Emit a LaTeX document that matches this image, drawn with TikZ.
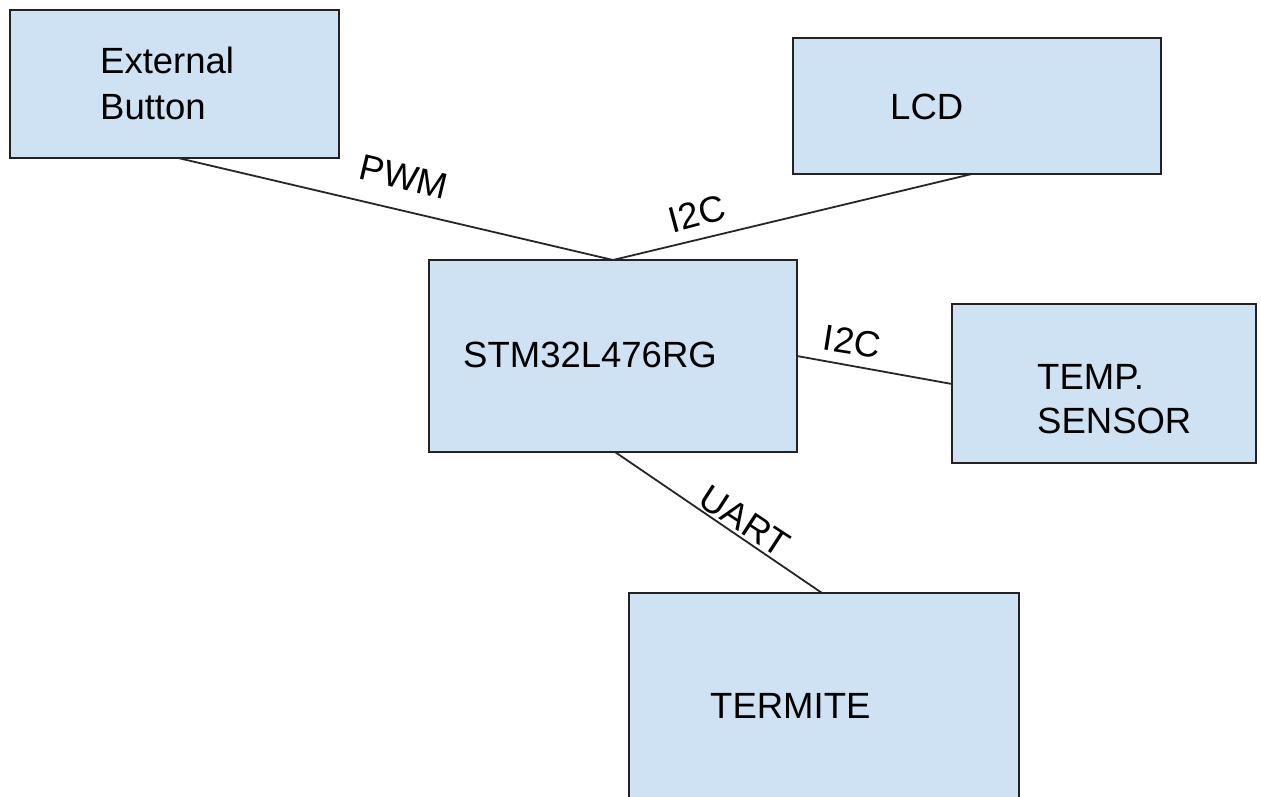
\documentclass[tikz,border=0pt]{standalone}
\usepackage{fontspec}
\setmainfont{Liberation Sans}
\usetikzlibrary{calc}
\definecolor{boxfill}{HTML}{CFE2F3}
\definecolor{edge}{HTML}{222222}
\begin{document}
\begin{tikzpicture}[x=1pt,y=-1pt,
  block/.style={draw=edge,line width=2pt,fill=boxfill},
  txt/.style={inner sep=0pt,font=\fontsize{36.5}{46}\selectfont,text=black},
  lbl/.style={inner sep=0pt,font=\fontsize{36.5}{42}\selectfont,text=black},
  wire/.style={draw=black!85,line width=1.8pt}]
\useasboundingbox[fill=white] (0,0) rectangle (1261,796);
% boxes
\draw[block] (10,10) rectangle (339,158);
\coordinate (extSW) at (10,158); \coordinate (extSE) at (339,158);
\draw[block] (793,38) rectangle (1161,174);
\coordinate (lcdSW) at (793,174); \coordinate (lcdSE) at (1161,174);
\draw[block] (429,260) rectangle (797,452);
\coordinate (stmN) at (613,260); \coordinate (stmE) at (797,356); \coordinate (stmS) at (615,452);
\draw[block] (952,304) rectangle (1256,463);
\coordinate (tempW) at (952,384);
\draw[block] (629,593) rectangle (1019,830);
\coordinate (termN) at (822,593);
% texts
\node[txt,anchor=north west,align=left] (ext) at (100,47) {External\\Button};
\node[txt,anchor=base west] (lcd) at (890,119) {LCD};
\node[txt,anchor=base west] (stm) at (463,367) {STM32L476RG};
\node[txt,anchor=north west,align=left,font=\fontsize{36.5}{44}\selectfont] (temp) at (1037,364) {TEMP.\\SENSOR};
\node[txt,anchor=base west] (term) at (710,718) {TERMITE};
% connectors
\draw[wire] ($(extSW)!0.511!(extSE)$) -- (stmN);
\draw[wire] (stmN) -- ($(lcdSW)!0.486!(lcdSE)$);
\draw[wire] (stmE) -- (tempW);
\draw[wire] (stmS) -- (termN);
% labels
\node[lbl,rotate=-13.5] (pwm) at (404,177) {PWM};
\node[lbl,rotate=15] (i2ca) at (697,214) {I2C};
\node[lbl,rotate=-9] (i2cb) at (852,342) {I2C};
\node[lbl,rotate=-33] (uart) at (745,521) {UART};
\end{tikzpicture}
\end{document}
